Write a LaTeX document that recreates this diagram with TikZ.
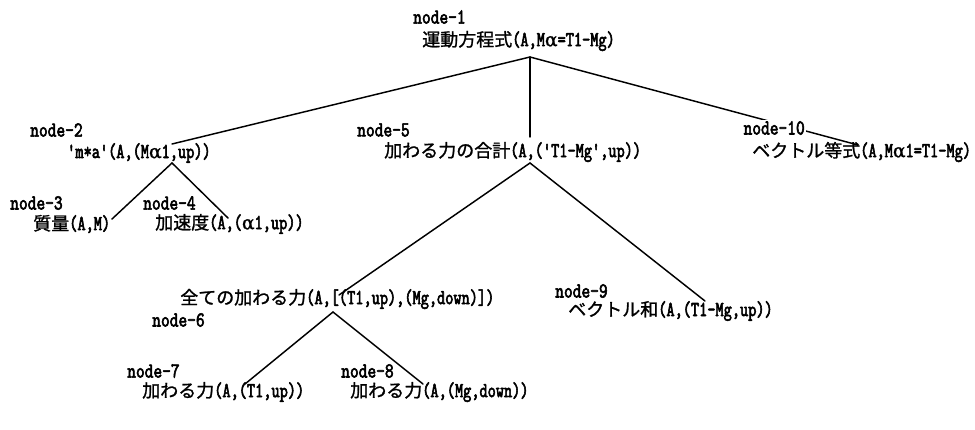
\documentclass[tikz,border=0pt]{standalone}
\usepackage{fontspec}
\newfontfamily\jpf{Noto Sans CJK JP}[FakeBold=1.2]
\newfontfamily\alf{DejaVu Serif}[FakeBold=1.5]
\newfontfamily\lblf{lmmono10-regular.otf}[FakeBold=2.6,FakeStretch=0.78]
\newfontfamily\latf{lmmono10-regular.otf}[FakeBold=2.6,FakeStretch=0.73]
\newcommand\jt[1]{{\jpf\fontsize{13.5}{15}\selectfont #1}}
\newcommand\al{{\alf\fontsize{14}{15}\selectfont α}}
\newcommand\latn[1]{{\latf\fontsize{16}{18}\selectfont #1}}
\pgfdeclarelayer{bg}
\pgfsetlayers{bg,main}
\begin{document}
\begin{tikzpicture}[x=0.75pt,y=-0.75pt,
  lbl/.style={anchor=west,inner sep=0pt,font=\lblf\fontsize{16}{18}\selectfont},
  txt/.style={anchor=west,inner sep=0pt},
  edge/.style={line width=1.1pt,line cap=round}]
\useasboundingbox (0,0) rectangle (975,429);
% labels
\node[lbl] (l1) at (413,17) {node-1};
\node[lbl] (l2) at (30,130) {node-2};
\node[lbl] (l5) at (357,130) {node-5};
\node[lbl,fill=white,inner sep=1pt] (l10) at (742,128) {node-10};
\node[lbl] (l3) at (10,203) {node-3};
\node[lbl] (l4) at (143,203) {node-4};
\node[lbl] (l6) at (152,320) {node-6};
\node[lbl] (l9) at (555,291) {node-9};
\node[lbl] (l7) at (127,371) {node-7};
\node[lbl] (l8) at (341,371) {node-8};
% texts
\node[txt] (t1) at (422,41) {\jt{運動方程式}\latn{(A,M}\al\latn{=T1-Mg)}};
\node[txt] (t2) at (67,153) {\latn{'m*a'(A,(M}\al\latn{1,up))}};
\node[txt] (t5) at (384,152) {\jt{加わる力の合計}\latn{(A,('T1-Mg',up))}};
\node[txt] (t10) at (752,152) {\jt{ベクトル等式}\latn{(A,M}\al\latn{1=T1-Mg)}};
\node[txt] (t3) at (33,224) {\jt{質量}\latn{(A,M)}};
\node[txt] (t4) at (155,224) {\jt{加速度}\latn{(A,(}\al\latn{1,up))}};
\node[txt] (t6) at (180,299) {\jt{全ての加わる力}\latn{(A,[(T1,up),(Mg,down)])}};
\node[txt] (t9) at (568,311) {\jt{ベクトル和}\latn{(A,(T1-Mg,up))}};
\node[txt] (t7) at (142,392) {\jt{加わる力}\latn{(A,(T1,up))}};
\node[txt] (t8) at (350,392) {\jt{加わる力}\latn{(A,(Mg,down))}};
% attachment points
\coordinate (r1) at (530,57);
\coordinate (a2) at (172,144);
\coordinate (b2) at (172,163);
\coordinate (a5) at (530,137);
\coordinate (b5) at (530,163);
\coordinate (a10) at (858,145);
\coordinate (a3) at (112,219);
\coordinate (a4) at (228,218);
\coordinate (a6) at (339,295);
\coordinate (a9) at (705,301);
\coordinate (b6) at (333,312);
\coordinate (a7) at (245,384);
\coordinate (a8) at (423,384);
\begin{pgfonlayer}{bg}
\fill[white] (0,0) rectangle (975,429);
\draw[edge] (r1) -- (a2);
\draw[edge] (r1) -- (a5);
\draw[edge] (r1) -- (a10);
\draw[edge] (b2) -- (a3);
\draw[edge] (b2) -- (a4);
\draw[edge] (b5) -- (a6);
\draw[edge] (b5) -- (a9);
\draw[edge] (b6) -- (a7);
\draw[edge] (b6) -- (a8);
\end{pgfonlayer}
\end{tikzpicture}
\end{document}
